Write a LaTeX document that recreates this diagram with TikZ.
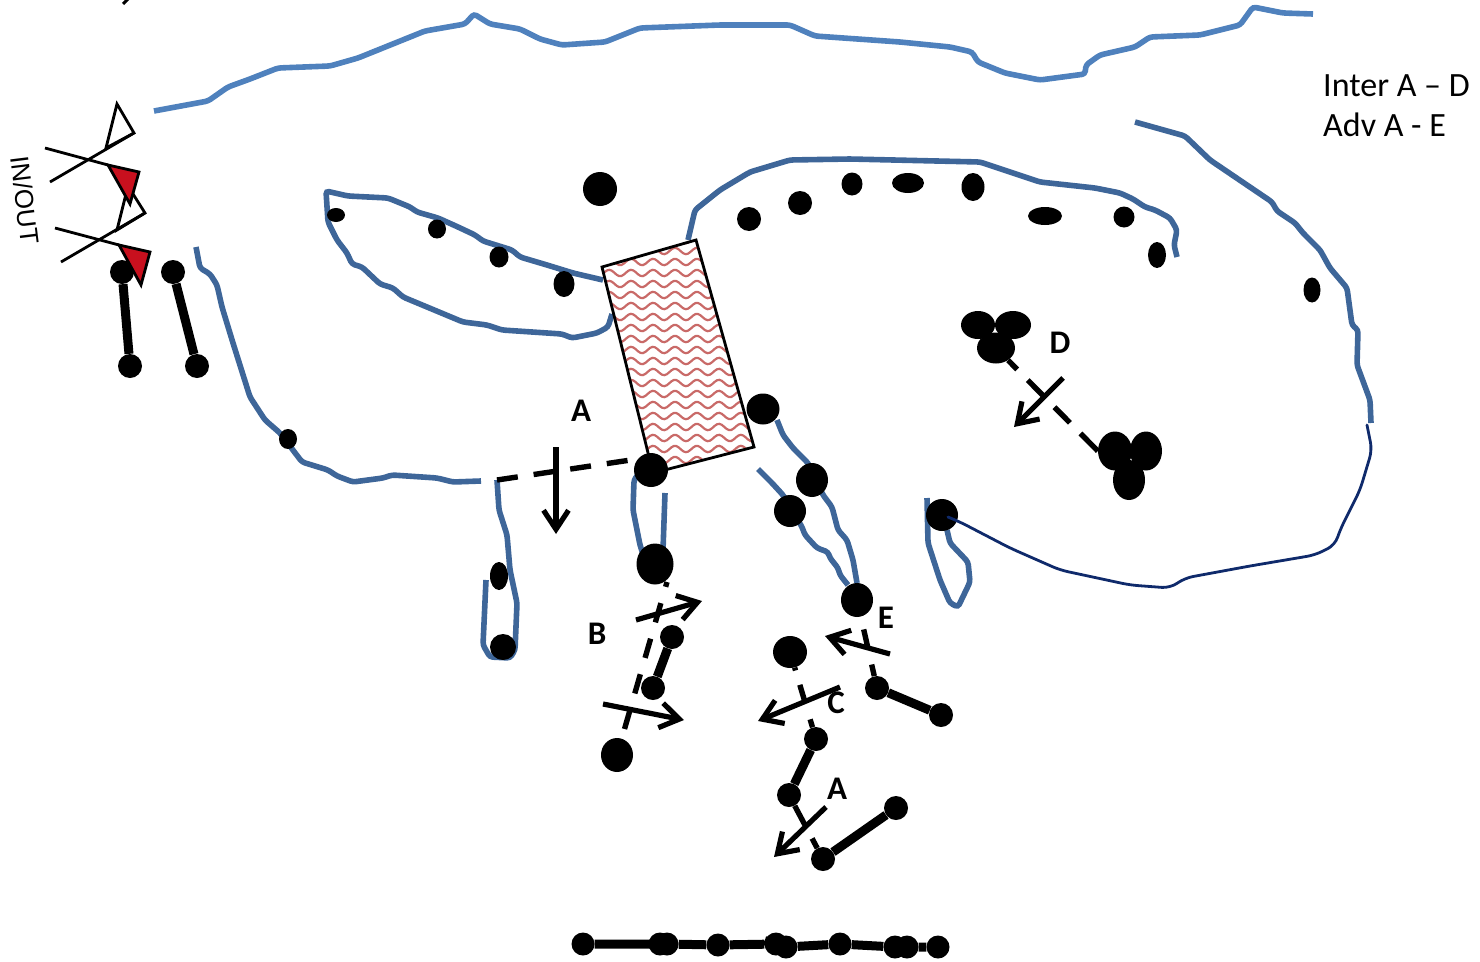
\documentclass[tikz,border=0pt]{standalone}
\usepackage{fontspec}
\setmainfont{Carlito}
\newfontfamily\arialfont{Liberation Sans}
\usetikzlibrary{arrows.meta,shapes.geometric}
\definecolor{topblue}{HTML}{4F81BD}
\definecolor{dendblue}{HTML}{3E6699}
\definecolor{axonnavy}{HTML}{0F2A6B}
\definecolor{wavered}{HTML}{C0504D}
\definecolor{synred}{HTML}{C8101E}

\begin{document}
\begin{tikzpicture}[%
    x=1pt,
    y=-1pt,
    soma/.style 2 args={%
      ellipse,
      fill=black,
      inner sep=0pt,
      minimum width=#1pt,
      minimum height=#2pt
    },
    dend/.style={dendblue, line width=5.6pt, rounded corners=3pt},
    stalk/.style={line width=9pt},
    gapline/.style={line width=5.4pt},
    flow/.style={-{Straight Barb[length=19pt,width=25pt]}, line width=5.2pt},
    letter/.style={font=\bfseries\fontsize{33}{33}\selectfont, inner sep=0pt},
    synline/.style={line width=2.8pt}
  ]
    \useasboundingbox (0,0) rectangle (1480,961);

    % dendrites
    \draw[topblue, line width=5.6pt, rounded corners=3pt] (154,111) -- (208,101) -- (228,87) -- (250,79) -- (278,68) -- (330,66) -- (358,58) -- (425,31) -- (465,24) -- (474,14) -- (490,24) -- (520,29) -- (540,39) -- (562,45) -- (605,42) -- (640,28) -- (720,25) -- (790,25) -- (815,36) -- (900,42) -- (950,47) -- (972,52) -- (978,62) -- (1005,73) -- (1040,80) -- (1085,74) -- (1086,65) -- (1100,55) -- (1135,47) -- (1150,37) -- (1200,35) -- (1240,25) -- (1253,7) -- (1283,13) -- (1313,14);
    \draw[dend] (196,247) -- (200,268) -- (210,274) -- (217,285) -- (222,307) -- (233,343) -- (250,397) -- (265,420) -- (280,433) -- (302,462) -- (328,470) -- (337,476) -- (353,482) -- (383,478) -- (392,475) -- (437,478) -- (453,482) -- (481,481);
    \draw[dend] (603,280) -- (573,273) -- (547,265) -- (520,257) -- (512,250) -- (483,241) -- (475,235) -- (458,227) -- (438,218) -- (417,212) -- (410,207) -- (388,198) -- (348,196) -- (326,191) -- (328,222) -- (337,240) -- (347,253) -- (352,264) -- (362,267) -- (380,284) -- (393,288) -- (403,297) -- (463,322) -- (487,325) -- (502,330) -- (562,334) -- (572,338) -- (597,333) -- (608,327) -- (612,314);
    \draw[dend] (688,240) -- (695,210) -- (720,190) -- (750,172) -- (790,160) -- (850,159) -- (980,162) -- (1040,182) -- (1095,188) -- (1120,193) -- (1133,199) -- (1145,207) -- (1155,210) -- (1170,218) -- (1177,230) -- (1174,245) -- (1177,257);
    \draw[dend] (1135,122) -- (1185,136) -- (1210,160) -- (1272,202) -- (1277,211) -- (1295,223) -- (1303,233) -- (1320,250) -- (1330,268) -- (1347,288) -- (1352,325) -- (1358,330) -- (1357,365) -- (1370,400) -- (1371,423);
    \draw[dend] (927,498) -- (928,543) -- (940,580) -- (950,603) -- (958,607) -- (970,582) -- (968,562) -- (950,543) -- (947,530);
    \draw[dend] (777,420) -- (783,435) -- (793,448) -- (808,463) -- (823,495) -- (832,507) -- (838,530) -- (847,540) -- (853,560) -- (857,583);
    \draw[dend] (758,469) -- (772,483) -- (783,495) -- (802,527) -- (805,535) -- (817,548) -- (828,552) -- (830,558) -- (838,568) -- (840,575) -- (848,585);
    \draw[dend] (497,480) -- (499,510) -- (507,535) -- (510,570) -- (517,603) -- (515,650) -- (510,658) -- (490,657) -- (483,645) -- (486,580);
    \draw[dend] (640,472) -- (634,480) -- (633,510) -- (640,545) -- (645,560);
    \draw[dend] (665,493) -- (663,550);

    % pathway block
    \begin{scope}
      \clip (602,267) -- (696,240) -- (754,447) -- (653,473) -- cycle;
      \foreach \rowy in {240,251,...,480}
        \draw[wavered!85, line width=2.2pt] plot[domain=595:760,samples=70,smooth] (\x,{\rowy+3.2*sin(\x*16.4)});
    \end{scope}
    \draw[line width=2.8pt] (602,267) -- (696,240) -- (754,447) -- (653,473) -- cycle;

    % synapses
    \draw[synline, fill=white] (106,148) -- (117,104) -- (134,133) -- cycle;
    \draw[synline] (134,133) -- (50,182);
    \draw[synline, fill=white] (117,230) -- (128,186) -- (145,213) -- cycle;
    \draw[synline] (145,213) -- (61,262);
    \draw[synline] (45,148) -- (108,165);
    \draw[synline] (55,228) -- (119,245);
    \draw[synline, fill=synred] (108,165) -- (139,172) -- (130,204) -- cycle;

    % cells
    \node[soma={34}{34}] (c1) at (600,189) {};
    \node[soma={18}{14}] (c2) at (336,215) {};
    \node[soma={18}{19}] (c3) at (437,229) {};
    \node[soma={19}{21}] (c4) at (499,257) {};
    \node[soma={21}{26}] (c5) at (564,284) {};
    \node[soma={24}{24}] (c6) at (749,219) {};
    \node[soma={24}{24}] (c7) at (800,203) {};
    \node[soma={21}{23}] (c8) at (852,184) {};
    \node[soma={32}{20}] (c9) at (908,183) {};
    \node[soma={23}{28}] (c10) at (973,187) {};
    \node[soma={34}{18}] (c11) at (1045,216) {};
    \node[soma={21}{21}] (c12) at (1124,217) {};
    \node[soma={18}{26}] (c13) at (1157,255) {};
    \node[soma={17}{25}] (c14) at (1312,290) {};
    \node[soma={18}{20}] (c15) at (288,439) {};
    \node[soma={33}{31}] (c16) at (763,409) {};
    \node[soma={34}{34}] (c17) at (651,470) {};
    \node[soma={32}{34}] (c18) at (812,480) {};
    \node[soma={32}{32}] (c19) at (790,511) {};
    \node[soma={32}{32}] (c20) at (942,515) {};
    \node[soma={18}{28}] (c21) at (499,576) {};
    \node[soma={26}{26}] (c22) at (503,647) {};
    \node[soma={37}{41}] (c23) at (655,564) {};
    \node[soma={32}{34}] (c24) at (857,600) {};
    \node[soma={34}{32}] (c25) at (790,652) {};
    \node[soma={32}{34}] (c26) at (617,755) {};
    \node[soma={34}{28}] (d1) at (978,325) {};
    \node[soma={36}{28}] (d2) at (1013,325) {};
    \node[soma={38}{31}] (d3) at (996,348) {};
    \node[soma={34}{39}] (d4) at (1115,451) {};
    \node[soma={32}{39}] (d5) at (1146,451) {};
    \node[soma={32}{40}] (d6) at (1129,480) {};

    \draw[axonnavy, line width=2.8pt, rounded corners=8pt, line cap=round] (1367,425) -- (1372,450) -- (1360,490) -- (1340,530) -- (1335,545) -- (1315,555) -- (1250,566) -- (1185,578) -- (1170,588) -- (1130,585) -- (1060,570) -- (1010,548) -- (960,522) -- (948,517);

    % pairs
    \node[soma={24}{24}] (p1) at (122,272) {};
    \node[soma={24}{24}] (p2) at (130,366) {};
    \node[soma={24}{24}] (p3) at (173,272) {};
    \node[soma={24}{24}] (p4) at (197,366) {};
    \node[soma={24}{24}] (p5) at (672,637) {};
    \node[soma={24}{24}] (p6) at (653,688) {};
    \node[soma={24}{24}] (p7) at (877,688) {};
    \node[soma={24}{24}] (p8) at (941,715) {};
    \node[soma={24}{24}] (p9) at (816,739) {};
    \node[soma={24}{24}] (p10) at (789,795) {};
    \node[soma={24}{24}] (p11) at (896,808) {};
    \node[soma={24}{24}] (p12) at (823,859) {};
    \path[draw, stalk] (p1) -- (p2)
          (p3) -- (p4)
          (p5) -- (p6)
          (p7) -- (p8)
          (p9) -- (p10)
          (p11) -- (p12);
    \draw[synline, fill=synred] (119,245) -- (150,252) -- (141,285) -- cycle;

    % bottom row
    \node[soma={23}{23}] (r1) at (583,944) {};
    \node[soma={23}{23}] (r2) at (660,944) {};
    \node[soma={23}{23}] (r3) at (667,944) {};
    \node[soma={23}{23}] (r4) at (718,945) {};
    \node[soma={23}{23}] (r5) at (776,944) {};
    \node[soma={23}{23}] (r6) at (786,947) {};
    \node[soma={23}{23}] (r7) at (840,944) {};
    \node[soma={23}{23}] (r8) at (895,947) {};
    \node[soma={23}{23}] (r9) at (907,947) {};
    \node[soma={23}{23}] (r10) at (938,947) {};
    \path[draw, stalk] (r1) -- (r2) -- (r3) -- (r4) -- (r5) -- (r6) -- (r7) -- (r8) -- (r9) -- (r10);

    % gaps
    \coordinate (gA) at (497,480);
    \coordinate (gB) at (667,582);
    \draw[gapline, dash pattern=on 21pt off 16pt] (gA) -- (c17.140);
    \draw[gapline, dash pattern=on 13pt off 15pt on 22pt off 16pt on 22pt off 15pt on 30pt off 0pt] (d3) -- (d4.west);
    \draw[gapline, dash pattern=on 5pt off 17pt on 20pt off 17pt on 20pt off 17pt on 20pt off 17pt on 20pt off 100pt] (gB) -- (c26);
    \draw[gapline, dash pattern=on 0pt off 13pt on 20pt off 16pt on 40pt off 0pt] (c24) -- (p7);
    \draw[gapline, dash pattern=on 3pt off 15pt on 17pt off 19pt on 40pt off 0pt] (c25) -- (p9);
    \draw[gapline, dash pattern=on 22pt off 15pt on 40pt off 0pt] (p10) -- (p12);

    % arrows
    \coordinate (a1) at (556,447);
    \coordinate (a2) at (556,534);
    \coordinate (a3) at (1063,378);
    \coordinate (a4) at (1014,427);
    \coordinate (a5) at (636,620);
    \coordinate (a6) at (702,601);
    \coordinate (a7) at (603,704);
    \coordinate (a8) at (684,720);
    \coordinate (a9) at (890,654);
    \coordinate (a10) at (825,636);
    \coordinate (a11) at (840,687);
    \coordinate (a12) at (758,721);
    \coordinate (a13) at (826,807);
    \coordinate (a14) at (774,857);
    \draw[flow] (a1) -- (a2);
    \draw[flow] (a3) -- (a4);
    \draw[flow] (a5) -- (a6);
    \draw[flow] (a7) -- (a8);
    \draw[flow] (a9) -- (a10);
    \draw[flow] (a11) -- (a12);
    \draw[flow] (a13) -- (a14);

    % labels
    \node[letter] (lA) at (581,411) {A};
    \node[letter] (lD) at (1060,343) {D};
    \node[letter] (lB) at (597,634) {B};
    \node[letter] (lE) at (886,618) {E};
    \node[letter] (lC) at (836,703) {C};
    \node[letter] (lAb) at (837,789) {A};
    \node[font=\fontsize{34}{40}\selectfont, align=left, anchor=north west, inner sep=0pt] (ranges) at (1323,74) {Inter A – D\\Adv A - E};
    \node[font=\arialfont\fontsize{26}{26}\selectfont, rotate=-83, inner sep=0pt] (inout) at (25,200) {IN/OUT};

    \draw[line width=3pt] (128,-1) -- (123,4);
\end{tikzpicture}
\end{document}
